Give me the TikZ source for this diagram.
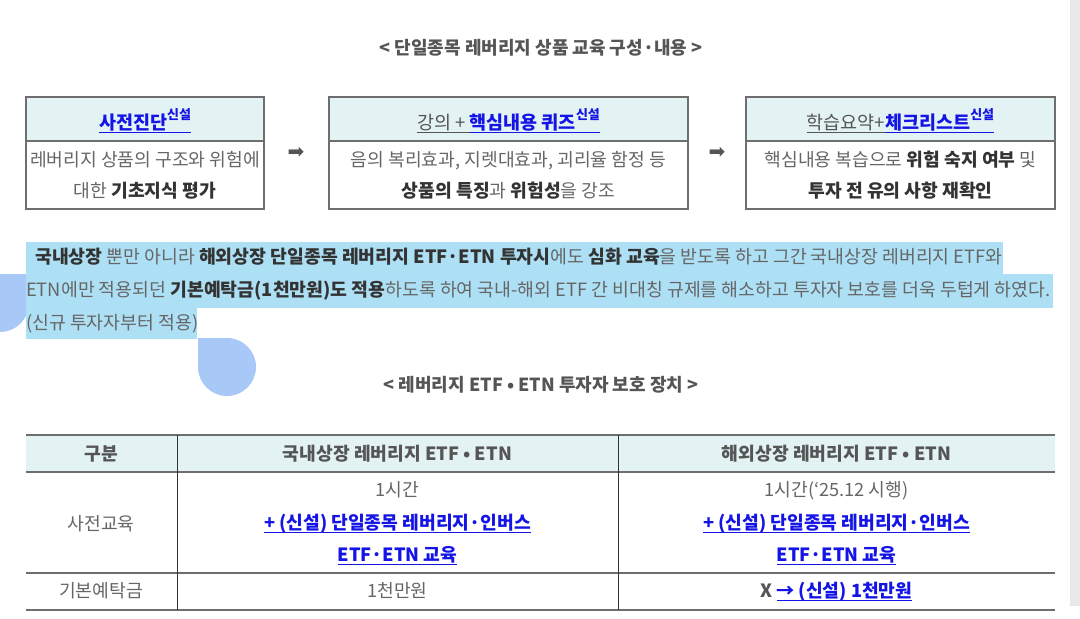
\documentclass[tikz,border=0pt]{standalone}
\usepackage{fontspec}
\setmainfont{Noto Sans CJK KR}
\newfontfamily\djv{DejaVu Sans}
\definecolor{txtgray}{HTML}{666666}
\definecolor{darktxt}{HTML}{333333}
\definecolor{titlegray}{HTML}{555555}
\definecolor{linkblue}{HTML}{1414E6}
\definecolor{hdrfill}{HTML}{E3F2F3}
\definecolor{hilite}{HTML}{ADE0F5}
\definecolor{dropblue}{HTML}{A8C8F8}
\definecolor{stripgray}{HTML}{E8E8E8}
\definecolor{linegray}{HTML}{6E6E6E}
\newcommand\setfs[1]{\fontsize{#1}{#1}\selectfont}
\newcommand\myul[1]{\setbox0=\hbox{#1}\leavevmode\rlap{\rule[-3.8pt]{\wd0}{1.1pt}}\box0}
\newcommand\sinseol{\raisebox{0.5em}{\setfs{13}\textbf{신설}}}
\newcommand\bd[1]{\textcolor{darktxt}{\textbf{#1}}}
\tikzset{
  txt/.style={inner sep=0pt, anchor=base, text=txtgray, font=\setfs{18.2}},
  hdr/.style={inner sep=0pt, anchor=base, text=txtgray, font=\setfs{18.5}},
  ttl/.style={inner sep=0pt, anchor=base, text=titlegray, font=\setfs{18}\bfseries},
  para/.style={inner sep=0pt, anchor=base west, text=txtgray, font=\setfs{18.3}},
  arr/.style={inner sep=0pt, text=titlegray, font=\djv\setfs{20}},
  boxline/.style={draw=linegray, line width=1.1pt},
  tline/.style={draw=linegray, line width=1.3pt},
  vline/.style={draw=darktxt, line width=1pt},
  lnk/.style={text=linkblue, font=\setfs{18.2}\bfseries}
}
\begin{document}
\begin{tikzpicture}[x=1pt,y=-1pt]
\useasboundingbox (0,0) rectangle (1080,619);
\fill[white] (0,0) rectangle (1080,619);
\fill[stripgray] (1070,0) rectangle (1080,606);

% title 1
\node[ttl] (t1) at (541,54.5) {< 단일종목 레버리지 상품 교육 구성·내용 >};

% boxes
\fill[hdrfill] (26,97) rectangle (264,141);
\fill[hdrfill] (329,97) rectangle (688,141);
\fill[hdrfill] (746,97) rectangle (1055,141);
\draw[boxline] (26,97) rectangle (264,209);
\draw[boxline] (26,141) -- (264,141);
\draw[boxline] (329,97) rectangle (688,209);
\draw[boxline] (329,141) -- (688,141);
\draw[boxline] (746,97) rectangle (1055,209);
\draw[boxline] (746,141) -- (1055,141);

\node[hdr] (h1) at (145,129) {\textcolor{linkblue}{\myul{\textbf{사전진단}\sinseol}}};
\node[hdr] (h2) at (508.5,129) {\textcolor{titlegray}{\myul{강의 + }}\textcolor{linkblue}{\myul{\textbf{핵심내용 퀴즈}\sinseol}}};
\node[hdr] (h3) at (900.5,129) {\textcolor{titlegray}{\myul{학습요약+}}\textcolor{linkblue}{\myul{\textbf{체크리스트}\sinseol}}};

\node[txt] (b1a) at (145,166.5) {레버리지 상품의 구조와 위험에};
\node[txt] (b1b) at (145,197) {대한 \bd{기초지식 평가}};
\node[txt] (b2a) at (508.5,166.5) {음의 복리효과, 지렛대효과, 괴리율 함정 등};
\node[txt] (b2b) at (508.5,197) {\bd{상품의 특징}과 \bd{위험성}을 강조};
\node[txt] (b3a) at (900.5,166.5) {핵심내용 복습으로 \bd{위험 숙지 여부} 및};
\node[txt] (b3b) at (900.5,197) {\bd{투자 전 유의 사항 재확인}};

\node[arr] (a1) at (296,153) {➡};
\node[arr] (a2) at (717,153) {➡};

% decorative drops
\fill[dropblue] (0,303) circle (29);
\fill[dropblue] (-30,274) rectangle (29,303);
\fill[dropblue] (-30,274) rectangle (0,332);
\fill[dropblue] (227,367) circle (29);
\fill[dropblue] (198,338) rectangle (227,367);

% highlighted paragraph
\fill[hilite] (26,242) rectangle (1003,274.5);
\fill[hilite] (26,274) rectangle (1053,307.5);
\fill[hilite] (26,307) rectangle (197,339);
\node[para] (p1) at (35,263.6) {\bd{국내상장} 뿐만 아니라 \bd{해외상장 단일종목 레버리지 ETF·ETN 투자시}에도 \bd{심화 교육}을 받도록 하고 그간 국내상장 레버리지 ETF와};
\node[para] (p2) at (26,296.6) {ETN에만 적용되던 \bd{기본예탁금(1천만원)도 적용}하도록 하여 국내-해외 ETF 간 비대칭 규제를 해소하고 투자자 보호를 더욱 두텁게 하였다.};
\node[para] (p3) at (26,329.6) {(신규 투자자부터 적용)};

% title 2
\node[ttl] (t2) at (541,391.5) {< 레버리지 ETF • ETN 투자자 보호 장치 >};

% table
\fill[hdrfill] (26,435) rectangle (1055,472);
\draw[tline] (26,435) -- (1055,435);
\draw[tline] (26,472) -- (1055,472);
\draw[tline] (26,573) -- (1055,573);
\draw[tline] (26,610) -- (1055,610);
\draw[vline] (177,435) -- (177,610);
\draw[vline] (618.5,435) -- (618.5,610);

\node[txt, text=titlegray, font=\setfs{18.2}\bfseries] (c0) at (101,460.5) {구분};
\node[txt, text=titlegray, font=\setfs{18.2}\bfseries] (c1) at (397.5,460.5) {국내상장 레버리지 ETF • ETN};
\node[txt, text=titlegray, font=\setfs{18.2}\bfseries] (c2) at (836.5,460.5) {해외상장 레버리지 ETF • ETN};

\node[txt] (r1) at (101,530.5) {사전교육};
\node[txt] (r1a) at (397.5,496.5) {1시간};
\node[txt, lnk] (r1b) at (397.5,529.5) {\myul{+ (신설) 단일종목 레버리지·인버스}};
\node[txt, lnk] (r1c) at (397.5,561.5) {\myul{ETF·ETN 교육}};
\node[txt] (r1d) at (836.5,496.5) {1시간(‘25.12 시행)};
\node[txt, lnk] (r1e) at (836.5,529.5) {\myul{+ (신설) 단일종목 레버리지·인버스}};
\node[txt, lnk] (r1f) at (836.5,561.5) {\myul{ETF·ETN 교육}};

\node[txt] (r2) at (101,597.5) {기본예탁금};
\node[txt] (r2a) at (397.5,597.5) {1천만원};
\node[txt] (r2b) at (836.5,597.5) {\textcolor{titlegray}{\textbf{X}} \textcolor{linkblue}{\myul{\textbf{→ (신설) 1천만원}}}};
\end{tikzpicture}
\end{document}
